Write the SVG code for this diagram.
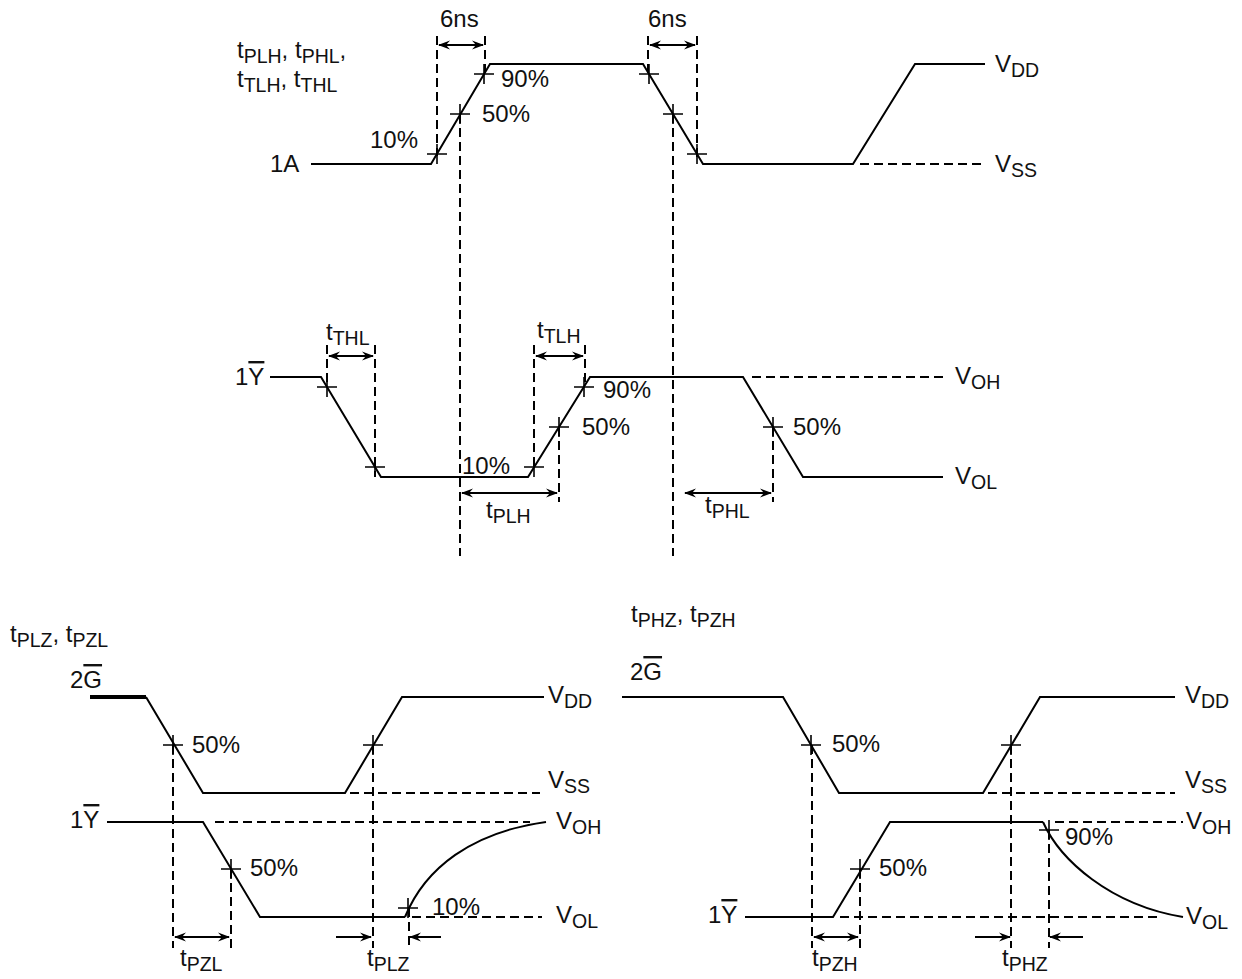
<svg xmlns="http://www.w3.org/2000/svg" width="1242" height="979" viewBox="0 0 1242 979">
<style>
.w{stroke:#000;stroke-width:2;fill:none;stroke-linejoin:miter}
.wt{stroke:#000;stroke-width:4;fill:none}
.d{stroke:#000;stroke-width:2;stroke-dasharray:9 5;fill:none}
.x{stroke:#000;stroke-width:1.6;fill:none}
.a{stroke:#000;stroke-width:2;fill:none;marker-end:url(#ah)}
.a2{stroke:#000;stroke-width:2;fill:none;marker-end:url(#ah);marker-start:url(#ah)}
text{font-family:"Liberation Sans",Arial,Helvetica,sans-serif;font-size:24px;fill:#111}
.s{font-size:19.5px}
.ov{text-decoration:overline}
</style>
<defs>
<marker id="ah" viewBox="0 0 12 10" refX="11" refY="5" markerWidth="12" markerHeight="10" markerUnits="userSpaceOnUse" orient="auto-start-reverse">
<path d="M0,0.5 L12,5 L0,9.5 L4,5 z" fill="#000"/>
</marker>
</defs>

<g id="top-input">
<path class="w" d="M311,164 H431 L490,64 H643 L703,164 H853 L915,64 H985"/>
<path class="d" d="M860,164 H985"/>
<path class="x" d="M427,154 H447 M437,144 V164 M450,114 H470 M460,104 V124 M474,74 H494 M484,64 V84 M639,74 H659 M649,64 V84 M663,114 H683 M673,104 V124 M687,154 H707 M697,144 V164"/>
<path class="d" d="M437,36 V156 M485,36 V74 M648,36 V74 M697,36 V160"/>
<path class="a2" d="M439,45 H483"/>
<path class="a2" d="M650,45 H695"/>
<text x="440" y="27">6ns</text>
<text x="648" y="27">6ns</text>
<text x="237" y="58">t<tspan class="s" dy="5">PLH</tspan><tspan dy="-5">, t</tspan><tspan class="s" dy="5">PHL</tspan><tspan dy="-5">,</tspan></text>
<text x="237" y="87">t<tspan class="s" dy="5">TLH</tspan><tspan dy="-5">, t</tspan><tspan class="s" dy="5">THL</tspan></text>
<text x="270" y="172">1A</text>
<text x="370" y="148">10%</text>
<text x="482" y="122">50%</text>
<text x="501" y="87">90%</text>
<text x="995" y="72">V<tspan class="s" dy="5">DD</tspan></text>
<text x="995" y="172">V<tspan class="s" dy="5">SS</tspan></text>
</g>

<g id="long-refs">
<path class="d" d="M460,114 V556 M673,114 V556"/>
</g>

<g id="top-output">
<path class="w" d="M270,377 H321 L381,477 H528 L590,377 H743 L803,477 H943"/>
<path class="d" d="M752,377 H943"/>
<path class="x" d="M317,387 H337 M327,377 V397 M365,467 H385 M375,457 V477 M524,467 H544 M534,457 V477 M549,427 H569 M559,417 V437 M574,387 H594 M584,377 V397 M763,427 H783 M773,417 V437"/>
<path class="d" d="M327,345 V386 M375,345 V477 M534,345 V467 M585,345 V387 M559,427 V502 M773,427 V502"/>
<path class="a2" d="M329,356 H373"/>
<path class="a2" d="M536,356 H583"/>
<path class="a2" d="M462,493 H557"/>
<path class="a2" d="M685,493 H771"/>
<text x="326" y="340">t<tspan class="s" dy="5">THL</tspan></text>
<text x="537" y="338">t<tspan class="s" dy="5">TLH</tspan></text>
<text x="235" y="385">1<tspan class="ov">Y</tspan></text>
<text x="603" y="398">90%</text>
<text x="582" y="435">50%</text>
<text x="462" y="474">10%</text>
<text x="793" y="435">50%</text>
<text x="486" y="518">t<tspan class="s" dy="5">PLH</tspan></text>
<text x="705" y="513">t<tspan class="s" dy="5">PHL</tspan></text>
<text x="955" y="384">V<tspan class="s" dy="5">OH</tspan></text>
<text x="955" y="484">V<tspan class="s" dy="5">OL</tspan></text>
</g>

<g id="bottom-left">
<text x="10" y="642">t<tspan class="s" dy="5">PLZ</tspan><tspan dy="-5">, t</tspan><tspan class="s" dy="5">PZL</tspan></text>
<text x="70" y="688">2<tspan class="ov">G</tspan></text>
<path class="wt" d="M90,697 H146"/>
<path class="w" d="M146,697 L203,793 H345 L402,697 H544"/>
<path class="d" d="M350,793 H540"/>
<path class="x" d="M163,745 H183 M173,735 V755 M363,745 H383 M373,735 V755"/>
<text x="192" y="753">50%</text>
<text x="548" y="703">V<tspan class="s" dy="5">DD</tspan></text>
<text x="548" y="788">V<tspan class="s" dy="5">SS</tspan></text>
<text x="70" y="828">1<tspan class="ov">Y</tspan></text>
<path class="w" d="M107,822 H203 L260,917 H405"/>
<path class="w" d="M405,917 C425,868 472,832 546,822"/>
<path class="d" d="M215,822 H530"/>
<path class="d" d="M412,917 H542"/>
<path class="x" d="M221,869 H241 M231,859 V879 M398,908 H418 M408,898 V918"/>
<text x="250" y="876">50%</text>
<text x="432" y="915">10%</text>
<text x="556" y="829">V<tspan class="s" dy="5">OH</tspan></text>
<text x="556" y="923">V<tspan class="s" dy="5">OL</tspan></text>
<path class="d" d="M173,745 V948 M231,869 V948 M373,745 V948 M409,908 V948"/>
<path class="a2" d="M175,937 H229"/>
<path class="a" d="M336,937 H371"/>
<path class="a" d="M441,937 H410"/>
<text x="180" y="966">t<tspan class="s" dy="5">PZL</tspan></text>
<text x="367" y="966">t<tspan class="s" dy="5">PLZ</tspan></text>
</g>

<g id="bottom-right">
<text x="631" y="622">t<tspan class="s" dy="5">PHZ</tspan><tspan dy="-5">, t</tspan><tspan class="s" dy="5">PZH</tspan></text>
<text x="630" y="680">2<tspan class="ov">G</tspan></text>
<path class="w" d="M622,697 H783 L839,793 H983 L1040,697 H1175"/>
<path class="d" d="M988,793 H1175"/>
<path class="x" d="M801,745 H821 M811,735 V755 M1001,745 H1021 M1011,735 V755"/>
<text x="832" y="752">50%</text>
<text x="1185" y="703">V<tspan class="s" dy="5">DD</tspan></text>
<text x="1185" y="788">V<tspan class="s" dy="5">SS</tspan></text>
<text x="708" y="923">1<tspan class="ov">Y</tspan></text>
<path class="w" d="M745,917 H833 L890,822 H1043"/>
<path class="w" d="M1043,822 C1060,860 1110,905 1183,917"/>
<path class="d" d="M840,917 H1160"/>
<path class="d" d="M1055,822 H1183"/>
<path class="x" d="M850,869 H870 M860,859 V879 M1039,830 H1059 M1049,820 V840"/>
<text x="879" y="876">50%</text>
<text x="1065" y="845">90%</text>
<text x="1186" y="829">V<tspan class="s" dy="5">OH</tspan></text>
<text x="1186" y="924">V<tspan class="s" dy="5">OL</tspan></text>
<path class="d" d="M812,745 V948 M860,869 V948 M1011,745 V948 M1049,830 V948"/>
<path class="a2" d="M814,937 H858"/>
<path class="a" d="M975,937 H1010"/>
<path class="a" d="M1083,937 H1050"/>
<text x="812" y="966">t<tspan class="s" dy="5">PZH</tspan></text>
<text x="1002" y="966">t<tspan class="s" dy="5">PHZ</tspan></text>
</g>
</svg>
